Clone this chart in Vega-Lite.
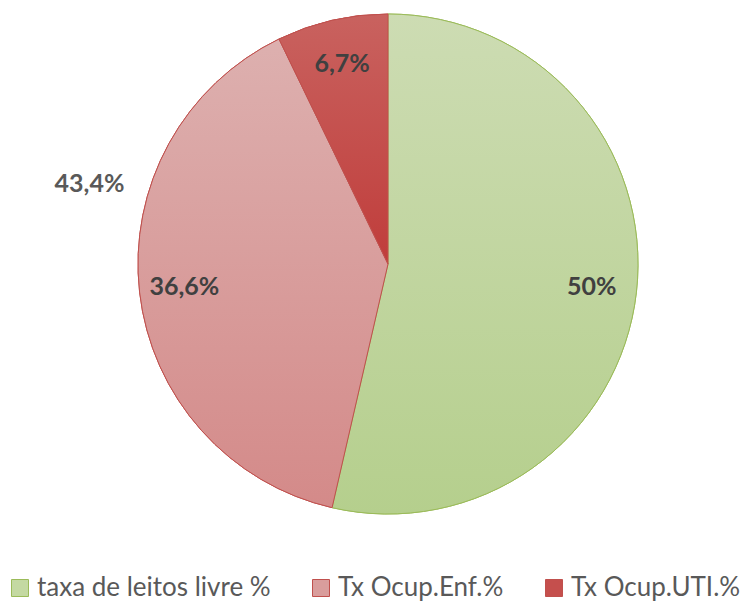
{
  "$schema": "https://vega.github.io/schema/vega-lite/v6.json",
  "autosize": {"type": "none"},
  "width": 722,
  "height": 528,
  "padding": {"left": 27, "top": 0, "right": 0, "bottom": 74},
  "background": "white",
  "datasets": {
    "slices": [
      {"category": "taxa de leitos livre %", "value": 50, "label": "50%", "ord": 1},
      {"category": "Tx Ocup.Enf.%", "value": 36.6, "label": "36,6%", "ord": 2},
      {"category": "Tx Ocup.UTI.%", "value": 6.7, "label": "6,7%", "ord": 3}
    ],
    "extra": [
      {"label": "43,4%", "angle": 285}
    ]
  },
  "config": {"view": {"stroke": null}},
  "layer": [
    {
      "data": {"name": "slices"},
      "mark": {"type": "arc", "outerRadius": 250, "strokeWidth": 1},
      "encoding": {
        "theta": {"field": "value", "type": "quantitative", "stack": true},
        "order": {"field": "ord", "type": "quantitative"},
        "fill": {
          "field": "category", "type": "nominal",
          "sort": ["taxa de leitos livre %", "Tx Ocup.Enf.%", "Tx Ocup.UTI.%"],
          "scale": {
            "domain": ["taxa de leitos livre %", "Tx Ocup.Enf.%", "Tx Ocup.UTI.%"],
            "range": ["#c4d9a2", "#d99d9c", "#c54f4d"]
          },
          "legend": {
            "title": null,
            "orient": "none",
            "legendX": -20,
            "legendY": 575,
            "direction": "horizontal",
            "symbolType": "square",
            "symbolSize": 289,
            "symbolStrokeWidth": 1,
            "labelFont": "Lato",
            "labelFontSize": 26,
            "labelColor": "#595959",
            "labelOffset": 4,
            "columnPadding": 37,
            "labelLimit": 400
          }
        },
        "stroke": {
          "field": "category", "type": "nominal",
          "sort": ["taxa de leitos livre %", "Tx Ocup.Enf.%", "Tx Ocup.UTI.%"],
          "scale": {
            "domain": ["taxa de leitos livre %", "Tx Ocup.Enf.%", "Tx Ocup.UTI.%"],
            "range": ["#9bbb59", "#c0504d", "#c0504d"]
          },
          "legend": null
        }
      }
    },
    {
      "data": {"name": "slices"},
      "transform": [
        {"stack": "value", "groupby": [], "sort": [{"field": "ord"}], "as": ["v0", "v1"]},
        {"filter": "datum.ord == 1"}
      ],
      "mark": {"type": "arc", "outerRadius": 250, "strokeWidth": 1, "stroke": "#9bbb59",
        "fill": {"gradient": "linear", "x1": 0, "y1": 0, "x2": 0, "y2": 1, "stops": [{"offset": 0, "color": "#cddcb3"}, {"offset": 1, "color": "#b5cf8d"}]}},
      "encoding": {
        "theta": {"field": "v0", "type": "quantitative", "scale": {"domain": [0, 93.3]}},
        "theta2": {"field": "v1"}
      }
    },
    {
      "data": {"name": "slices"},
      "transform": [
        {"stack": "value", "groupby": [], "sort": [{"field": "ord"}], "as": ["v0", "v1"]},
        {"filter": "datum.ord == 2"}
      ],
      "mark": {"type": "arc", "outerRadius": 250, "strokeWidth": 1, "stroke": "#c0504d",
        "fill": {"gradient": "linear", "x1": 0, "y1": 0, "x2": 0, "y2": 1, "stops": [{"offset": 0, "color": "#ddb0af"}, {"offset": 1, "color": "#d48a89"}]}},
      "encoding": {
        "theta": {"field": "v0", "type": "quantitative", "scale": {"domain": [0, 93.3]}},
        "theta2": {"field": "v1"}
      }
    },
    {
      "data": {"name": "slices"},
      "transform": [
        {"stack": "value", "groupby": [], "sort": [{"field": "ord"}], "as": ["v0", "v1"]},
        {"filter": "datum.ord == 3"}
      ],
      "mark": {"type": "arc", "outerRadius": 250, "strokeWidth": 1, "stroke": "#c0504d",
        "fill": {"gradient": "linear", "x1": 0, "y1": 0, "x2": 0, "y2": 1, "stops": [{"offset": 0, "color": "#c9625f"}, {"offset": 1, "color": "#c03d3b"}]}},
      "encoding": {
        "theta": {"field": "v0", "type": "quantitative", "scale": {"domain": [0, 93.3]}},
        "theta2": {"field": "v1"}
      }
    },
    {
      "data": {"name": "slices"},
      "mark": {"type": "text", "radius": 205, "font": "Lato", "fontSize": 25, "fontWeight": "bold", "color": "#404040"},
      "encoding": {
        "theta": {"field": "value", "type": "quantitative", "stack": true},
        "order": {"field": "ord", "type": "quantitative"},
        "text": {"field": "label", "type": "nominal"}
      }
    },
    {
      "data": {"name": "extra"},
      "mark": {"type": "text", "radius": 309, "font": "Lato", "fontSize": 25, "fontWeight": "bold", "color": "#595959"},
      "encoding": {
        "theta": {"field": "angle", "type": "quantitative", "scale": {"domain": [0, 360], "range": [0, 6.283185]}},
        "text": {"field": "label", "type": "nominal"}
      }
    }
  ],
  "resolve": {"scale": {"theta": "independent"}}
}
